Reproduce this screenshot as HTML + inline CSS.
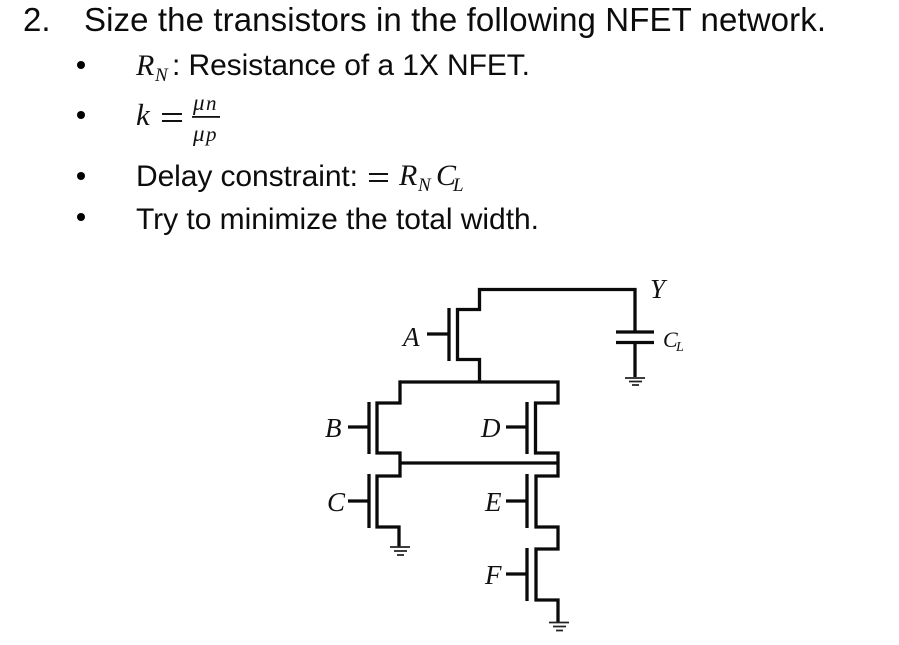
<!DOCTYPE html>
<html><head><meta charset="utf-8"><style>
html,body{margin:0;padding:0;background:#fff}
svg{display:block}
.s{font-family:"Liberation Sans",sans-serif;fill:#0c0c0c}
.m{font-family:"Liberation Serif",serif;font-style:italic;fill:#111}
.w{fill:none;stroke:#0a0a0a;stroke-width:3.3;stroke-linejoin:miter;stroke-linecap:butt}
.g{fill:none;stroke:#222;stroke-width:1.8}
</style></head><body>
<svg width="899" height="645" viewBox="0 0 899 645" xmlns="http://www.w3.org/2000/svg">
<text class="s" x="23" y="31" font-size="33">2.</text>
<text class="s" x="84" y="31" font-size="33" textLength="742" lengthAdjust="spacing">Size the transistors in the following NFET network.</text>
<circle cx="81" cy="65" r="4" fill="#000"/><circle cx="81" cy="115" r="4" fill="#000"/><circle cx="81" cy="176" r="4" fill="#000"/><circle cx="81" cy="217" r="4" fill="#000"/>
<text class="m" x="136" y="75" font-size="30">R</text><text class="m" x="155" y="81" font-size="19">N</text>
<text class="s" x="172" y="75" font-size="30" textLength="358" lengthAdjust="spacing">: Resistance of a 1X NFET.</text>
<text class="m" x="136" y="125" font-size="31">k</text>
<rect x="162" y="113" width="20" height="2" fill="#111"/><rect x="162" y="120" width="20" height="2" fill="#111"/>
<text class="m" x="193" y="110" font-size="23">μ</text><text class="m" x="206" y="110" font-size="21">n</text>
<rect x="192" y="116" width="28" height="1.8" fill="#111"/>
<text class="m" x="193" y="141" font-size="23">μ</text><text class="m" x="206" y="141" font-size="21">p</text>
<text class="s" x="136" y="186" font-size="30" textLength="222" lengthAdjust="spacing">Delay constraint:</text>
<rect x="369" y="173" width="19" height="2" fill="#111"/><rect x="369" y="180" width="19" height="2" fill="#111"/>
<text class="m" x="399" y="185" font-size="30">R</text><text class="m" x="418" y="191" font-size="19">N</text>
<text class="m" x="436" y="185" font-size="30">C</text><text class="m" x="453" y="191" font-size="19">L</text>
<text class="s" x="136" y="229" font-size="30" textLength="403" lengthAdjust="spacing">Try to minimize the total width.</text>

<path class="w" d="M449 308V361M427 334H449M479.500 382V359.500H457.500V309.500H479.500V289.500H635V332M616 332H654M616 342.500H654M635 342.500V377"/>
<path class="w" d="M400 382H558V403H535.500V453H558V476H536V527H558V549H536V600H558V622"/>
<path class="w" d="M401 382H400V403H377V453H400V476H377V527H399V547"/>
<path class="w" d="M400 463H558M369 402V454M348 427H369M369 474V528M348 501H369M527 402V454M506 427H527M527 474V528M506 501H527M527 548V601M506 574H527"/>
<path class="g" d="M625 378H645M629 381.500H642M632 385H639M390 547H410M394 551H407M397 555H404M549 622.500H569M553 626.500H566M556 630.500H563"/>

<text class="m" x="403" y="346" font-size="27">A</text>
<text class="m" x="325" y="437" font-size="27">B</text>
<text class="m" x="481" y="437" font-size="27">D</text>
<text class="m" x="327" y="511" font-size="27">C</text>
<text class="m" x="485" y="511" font-size="27">E</text>
<text class="m" x="485" y="584" font-size="27">F</text>
<text class="m" x="650" y="298" font-size="27">Y</text>
<text class="m" x="663" y="347" font-size="22">C</text><text class="m" x="676" y="351" font-size="14">L</text>
</svg>
</body></html>
